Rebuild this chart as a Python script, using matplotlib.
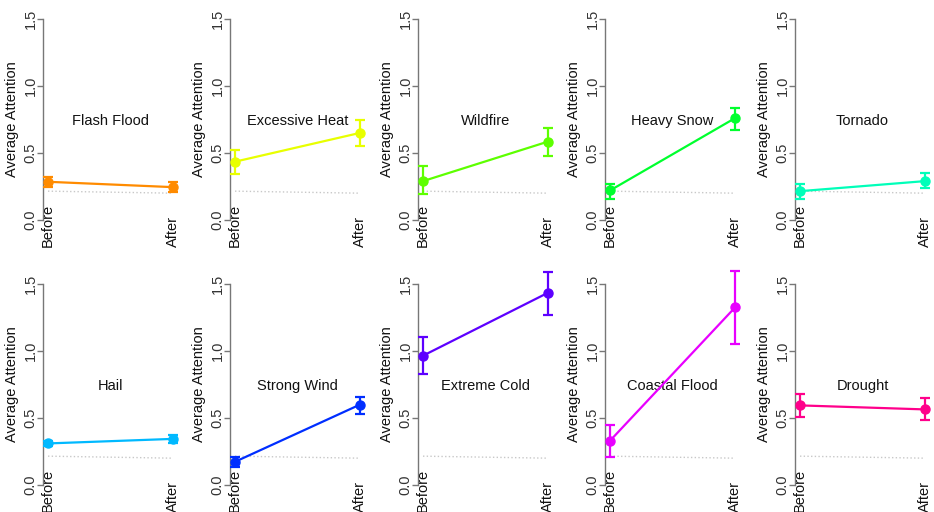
import matplotlib
matplotlib.use("Agg")
import matplotlib.pyplot as plt
from matplotlib.transforms import blended_transform_factory

plt.rcParams["font.family"] = ["Liberation Sans", "DejaVu Sans"]

EVENTS = [
    "Flash Flood", "Excessive Heat", "Wildfire", "Heavy Snow", "Tornado",
    "Hail", "Strong Wind", "Extreme Cold", "Coastal Flood", "Drought",
]
COLORS = [
    "#FF8B00", "#E8FF00", "#5DFF00", "#00FF2E", "#00FFB9",
    "#00B9FF", "#002EFF", "#5D00FF", "#E800FF", "#FF008B",
]
PERIODS = ["Before", "After"]

BEFORE_MEAN = [0.285, 0.435, 0.29, 0.22, 0.215, 0.31, 0.173, 0.965, 0.33, 0.594]
BEFORE_LO = [0.245, 0.345, 0.195, 0.155, 0.155, 0.29, 0.134, 0.825, 0.21, 0.505]
BEFORE_HI = [0.32, 0.52, 0.405, 0.27, 0.27, 0.33, 0.21, 1.105, 0.445, 0.676]
AFTER_MEAN = [0.245, 0.65, 0.585, 0.76, 0.29, 0.344, 0.60, 1.435, 1.325, 0.564]
AFTER_LO = [0.21, 0.55, 0.48, 0.67, 0.235, 0.315, 0.527, 1.27, 1.055, 0.483]
AFTER_HI = [0.28, 0.745, 0.69, 0.835, 0.35, 0.37, 0.66, 1.59, 1.595, 0.646]

BASELINE = [0.215, 0.20]

Y_TICKS = [0.0, 0.5, 1.0, 1.5]
Y_TICK_LABELS = ["0.0", "0.5", "1.0", "1.5"]

W, H = 934, 512
AX_LEFTS = [43, 230, 418, 605, 795]
AX_BOTTOMS = [228, 493]  # pixel row of axes bottom (from top)
AX_W, AX_H = 135, 217
FS = 10.5


def draw_panel(ax, i):
    x = [1, 2]
    color = COLORS[i]
    ax.plot(x, BASELINE, color="#C8C8C8", linestyle=":", linewidth=1.0, zorder=1)
    means = [BEFORE_MEAN[i], AFTER_MEAN[i]]
    lower = [means[0] - BEFORE_LO[i], means[1] - AFTER_LO[i]]
    upper = [BEFORE_HI[i] - means[0], AFTER_HI[i] - means[1]]
    ax.errorbar(
        x, means, yerr=[lower, upper], color=color, linewidth=1.6,
        elinewidth=1.6, capsize=3.6, capthick=1.6, marker="o", markersize=6.5,
        clip_on=False, zorder=3,
    )
    ax.text(1.5, 0.74, EVENTS[i], ha="center", va="center", fontsize=FS, color="#111111")

    ax.set_xlim(0.96, 2.04)
    ax.set_ylim(-0.06, 1.56)
    for side in ["top", "right", "bottom"]:
        ax.spines[side].set_visible(False)
    ax.spines["left"].set_bounds(0.0, 1.5)
    ax.spines["left"].set_color("#777777")
    ax.spines["left"].set_linewidth(1.0)
    ax.set_yticks(Y_TICKS)
    ax.set_yticklabels(Y_TICK_LABELS, rotation=90, va="center", fontsize=FS, color="#333333")
    ax.tick_params(axis="y", length=4, width=1.0, color="#777777", pad=0)
    ax.set_xticks([])
    ax.set_ylabel("Average Attention", fontsize=FS, color="#111111")
    ax.yaxis.set_label_coords(-0.175, (0.75 + 0.06) / 1.62)

    trans = blended_transform_factory(ax.transData, ax.transAxes)
    for xi, label in zip(x, PERIODS):
        ax.text(xi, -19 / AX_H, label, transform=trans, rotation=90,
                ha="center", va="bottom", fontsize=FS, color="#111111")


def main():
    fig = plt.figure(figsize=(W / 100, H / 100), dpi=100)
    for i in range(len(EVENTS)):
        row, col = divmod(i, 5)
        left = AX_LEFTS[col] / W
        bottom = (H - AX_BOTTOMS[row]) / H
        ax = fig.add_axes([left, bottom, AX_W / W, AX_H / H])
        draw_panel(ax, i)
    fig.savefig("out.png", dpi=100, facecolor="white")
    plt.close(fig)


if __name__ == "__main__":
    main()
